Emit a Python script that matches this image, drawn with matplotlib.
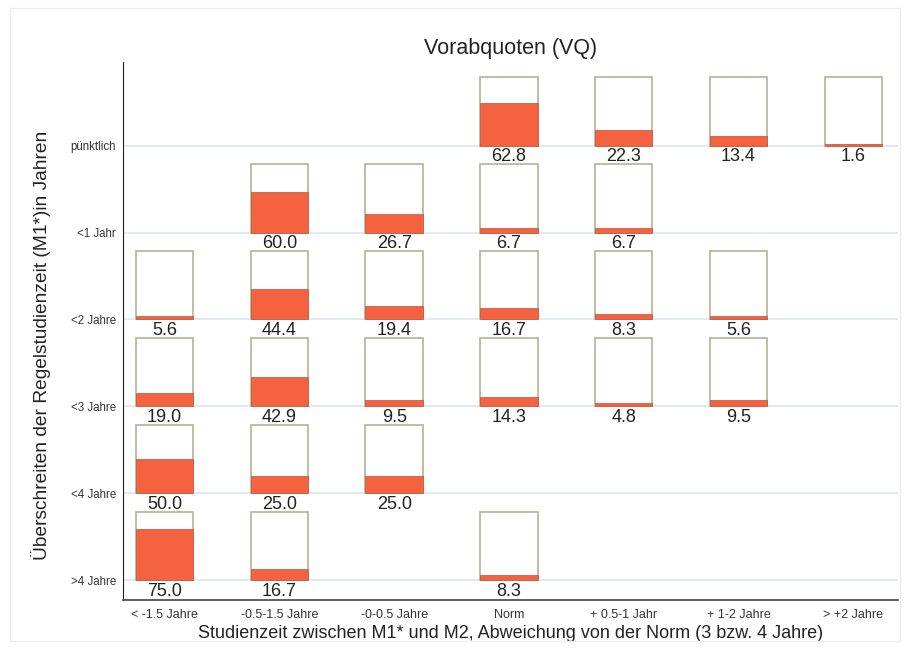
import numpy as np
import matplotlib.pyplot as plt
from matplotlib.patches import Rectangle

plt.rcParams['font.family'] = ['Liberation Sans', 'DejaVu Sans']

# x categories (deviation from norm), y categories (exceeding standard period)
cols = ['< -1.5 Jahre', '-0.5-1.5 Jahre', '-0-0.5 Jahre', 'Norm',
        '+ 0.5-1 Jahr', '+ 1-2 Jahre', '> +2 Jahre']
rows = ['>4 Jahre', '<4 Jahre', '<3 Jahre', '<2 Jahre', '<1 Jahr', 'pünktlich']

# percentages per row, None = no cell
p_puenktlich = [None, None, None, 62.8, 22.3, 13.4, 1.6]
p_1 = [None, 60.0, 26.7, 6.7, 6.7, None, None]
p_2 = [5.6, 44.4, 19.4, 16.7, 8.3, 5.6, None]
p_3 = [19.0, 42.9, 9.5, 14.3, 4.8, 9.5, None]
p_4 = [50.0, 25.0, 25.0, None, None, None, None]
p_gt4 = [75.0, 16.7, None, 8.3, None, None, None]
values = [p_gt4, p_4, p_3, p_2, p_1, p_puenktlich]

box_h = 0.785
box_w = 0.5
fill_col = '#f4623f'

fig = plt.figure(figsize=(9.09, 6.61), dpi=100)
ax = fig.add_axes([0.135, 0.092, 0.853, 0.814])

# faint outer frame
fig.patches.append(Rectangle((0.011, 0.03), 0.979, 0.958, transform=fig.transFigure,
                             fill=False, edgecolor='#eeeeee', linewidth=1))

for r in range(len(rows)):
    ax.axhline(r, color='#e3e9ef', linewidth=1.5, zorder=0)

for r, row_vals in enumerate(values):
    for c, v in enumerate(row_vals):
        if v is None:
            continue
        ax.bar(c, box_h, width=box_w, bottom=r, color='white',
               edgecolor='#b9b99c', linewidth=1.3, zorder=2)
        ax.bar(c, box_h * v / 100, width=box_w, bottom=r, color=fill_col,
               edgecolor='#c05038', linewidth=0.5, zorder=3)
        ax.text(c, r - 0.125, f'{v:.1f}', ha='center', va='center',
                fontsize=13, color='#222222', zorder=4)

ax.set_xlim(-0.365, 6.39)
ax.set_ylim(-0.23, 5.96)
ax.set_xticks(range(len(cols)))
ax.set_xticklabels(cols, fontsize=9, color='#333333')
ax.set_yticks(range(len(rows)))
ax.set_yticklabels(rows, fontsize=8.3, color='#333333')
ax.tick_params(axis='x', length=0, pad=6)
ax.tick_params(axis='y', length=0, pad=5)
for s in ['top', 'right']:
    ax.spines[s].set_visible(False)
ax.spines['left'].set_color('#222222')
ax.spines['bottom'].set_color('#444444')
ax.spines['bottom'].set_linewidth(1.2)

ax.set_title('Vorabquoten (VQ)', fontsize=15.5, color='#222222', pad=6)
ax.set_xlabel('Studienzeit zwischen M1* und M2, Abweichung von der Norm (3 bzw. 4 Jahre)',
              fontsize=13, color='#222222', labelpad=3)
ax.set_ylabel('Überschreiten der Regelstudienzeit (M1*)in Jahren',
              fontsize=13.8, color='#222222')
ax.yaxis.set_label_coords(-0.092, 0.474)

fig.savefig('out.png', dpi=100)
